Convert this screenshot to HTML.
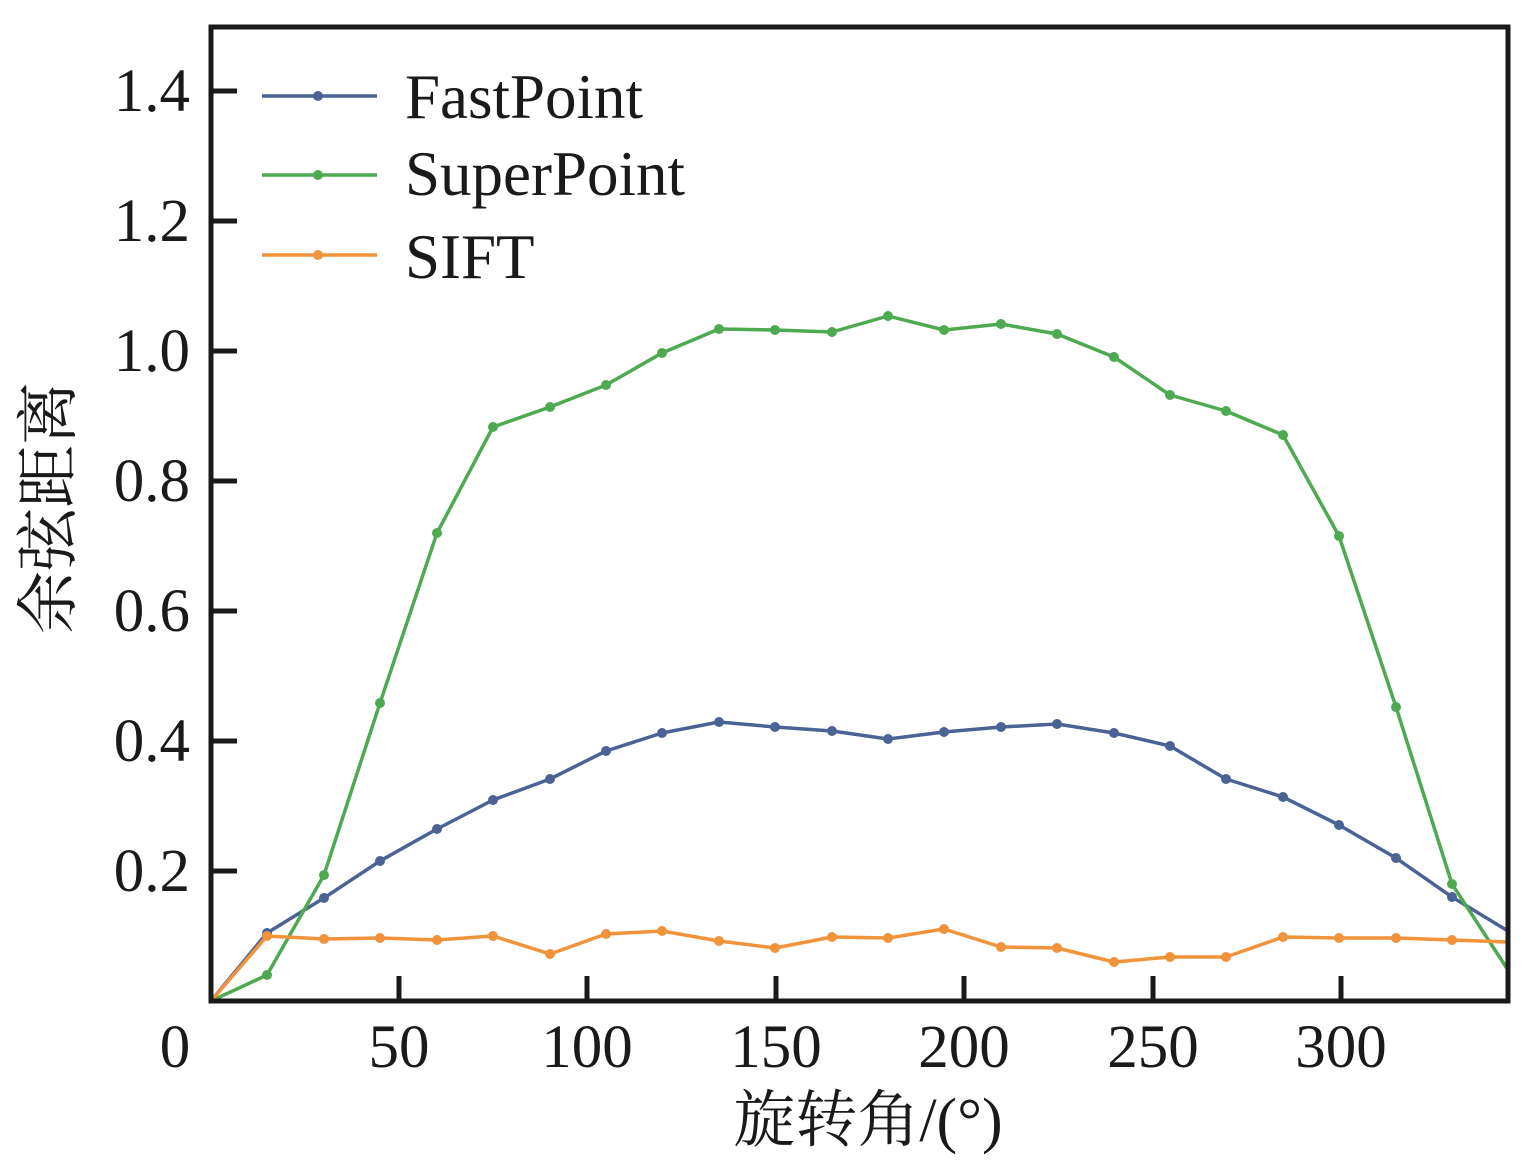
<!DOCTYPE html>
<html><head><meta charset="utf-8"><style>
html,body{margin:0;padding:0;background:#fff;}
svg{display:block;}
text{font-family:"Liberation Serif","Noto Serif CJK SC",serif;fill:#1a1a1a;}
</style></head><body>
<svg width="1533" height="1170" viewBox="0 0 1533 1170" xmlns="http://www.w3.org/2000/svg">
<defs><clipPath id="c"><rect x="211" y="27" width="1297" height="974"/></clipPath></defs>
<g clip-path="url(#c)" fill="none" stroke-width="3.5" stroke-linejoin="round">
<polyline stroke="#4a6394" points="211,1001 267,933 324,898 380,861 437,829 493,800 550,779 606,751 662,733 719,722 775,727 832,731 888,739 944,732 1001,727 1057,724 1114,733 1170,746 1226,779 1283,797 1339,825 1396,858 1452,897 1508,931"/>
<polyline stroke="#4daa50" points="211,1001 267,975 324,875 380,703 437,533 493,427 550,407 606,385 662,353 719,329 775,330 832,332 888,316 944,330 1001,324 1057,334 1114,357 1170,395 1226,411 1283,435 1339,536 1396,707 1452,884 1508,970"/>
<polyline stroke="#f0933a" points="211,1001 267,936 324,939 380,938 437,940 493,936 550,954 606,934 662,931 719,941 775,948 832,937 888,938 944,929 1001,947 1057,948 1114,962 1170,957 1226,957 1283,937 1339,938 1396,938 1452,940 1508,942"/>
</g>
<g clip-path="url(#c)">
<g fill="#4a6394"><circle cx="267" cy="933" r="5"/><circle cx="324" cy="898" r="5"/><circle cx="380" cy="861" r="5"/><circle cx="437" cy="829" r="5"/><circle cx="493" cy="800" r="5"/><circle cx="550" cy="779" r="5"/><circle cx="606" cy="751" r="5"/><circle cx="662" cy="733" r="5"/><circle cx="719" cy="722" r="5"/><circle cx="775" cy="727" r="5"/><circle cx="832" cy="731" r="5"/><circle cx="888" cy="739" r="5"/><circle cx="944" cy="732" r="5"/><circle cx="1001" cy="727" r="5"/><circle cx="1057" cy="724" r="5"/><circle cx="1114" cy="733" r="5"/><circle cx="1170" cy="746" r="5"/><circle cx="1226" cy="779" r="5"/><circle cx="1283" cy="797" r="5"/><circle cx="1339" cy="825" r="5"/><circle cx="1396" cy="858" r="5"/><circle cx="1452" cy="897" r="5"/></g>
<g fill="#4daa50"><circle cx="267" cy="975" r="5"/><circle cx="324" cy="875" r="5"/><circle cx="380" cy="703" r="5"/><circle cx="437" cy="533" r="5"/><circle cx="493" cy="427" r="5"/><circle cx="550" cy="407" r="5"/><circle cx="606" cy="385" r="5"/><circle cx="662" cy="353" r="5"/><circle cx="719" cy="329" r="5"/><circle cx="775" cy="330" r="5"/><circle cx="832" cy="332" r="5"/><circle cx="888" cy="316" r="5"/><circle cx="944" cy="330" r="5"/><circle cx="1001" cy="324" r="5"/><circle cx="1057" cy="334" r="5"/><circle cx="1114" cy="357" r="5"/><circle cx="1170" cy="395" r="5"/><circle cx="1226" cy="411" r="5"/><circle cx="1283" cy="435" r="5"/><circle cx="1339" cy="536" r="5"/><circle cx="1396" cy="707" r="5"/><circle cx="1452" cy="884" r="5"/></g>
<g fill="#f0933a"><circle cx="267" cy="936" r="5"/><circle cx="324" cy="939" r="5"/><circle cx="380" cy="938" r="5"/><circle cx="437" cy="940" r="5"/><circle cx="493" cy="936" r="5"/><circle cx="550" cy="954" r="5"/><circle cx="606" cy="934" r="5"/><circle cx="662" cy="931" r="5"/><circle cx="719" cy="941" r="5"/><circle cx="775" cy="948" r="5"/><circle cx="832" cy="937" r="5"/><circle cx="888" cy="938" r="5"/><circle cx="944" cy="929" r="5"/><circle cx="1001" cy="947" r="5"/><circle cx="1057" cy="948" r="5"/><circle cx="1114" cy="962" r="5"/><circle cx="1170" cy="957" r="5"/><circle cx="1226" cy="957" r="5"/><circle cx="1283" cy="937" r="5"/><circle cx="1339" cy="938" r="5"/><circle cx="1396" cy="938" r="5"/><circle cx="1452" cy="940" r="5"/></g>
</g>
<rect x="211" y="27" width="1297" height="974" fill="none" stroke="#1a1a1a" stroke-width="5"/>
<g stroke="#1a1a1a" stroke-width="5">
<line x1="211" y1="91" x2="237" y2="91"/><line x1="211" y1="221" x2="237" y2="221"/><line x1="211" y1="351" x2="237" y2="351"/><line x1="211" y1="481" x2="237" y2="481"/><line x1="211" y1="611" x2="237" y2="611"/><line x1="211" y1="741" x2="237" y2="741"/><line x1="211" y1="871" x2="237" y2="871"/>
<line x1="399" y1="1001" x2="399" y2="976"/><line x1="587" y1="1001" x2="587" y2="976"/><line x1="776" y1="1001" x2="776" y2="976"/><line x1="964" y1="1001" x2="964" y2="976"/><line x1="1153" y1="1001" x2="1153" y2="976"/><line x1="1341" y1="1001" x2="1341" y2="976"/>
</g>
<g font-size="61" text-anchor="end">
<text x="190" y="111">1.4</text><text x="190" y="241">1.2</text><text x="190" y="371">1.0</text><text x="190" y="501">0.8</text><text x="190" y="631">0.6</text><text x="190" y="761">0.4</text><text x="190" y="891">0.2</text>
</g>
<g font-size="61" text-anchor="middle">
<text x="175" y="1067">0</text><text x="399" y="1067">50</text><text x="587" y="1067">100</text><text x="776" y="1067">150</text><text x="964" y="1067">200</text><text x="1153" y="1067">250</text><text x="1341" y="1067">300</text>
</g>
<text x="868" y="1141" font-size="62" text-anchor="middle">旋转角/(°)</text>
<text transform="translate(70,508) rotate(-90)" font-size="63" text-anchor="middle">余弦距离</text>
<g stroke-width="3.5">
<line x1="262" y1="96" x2="377" y2="96" stroke="#4a6394"/><circle cx="318" cy="96" r="5" fill="#4a6394"/>
<line x1="262" y1="175" x2="377" y2="175" stroke="#4daa50"/><circle cx="318" cy="175" r="5" fill="#4daa50"/>
<line x1="262" y1="255" x2="377" y2="255" stroke="#f0933a"/><circle cx="318" cy="255" r="5" fill="#f0933a"/>
</g>
<g font-size="63">
<text x="405" y="118">FastPoint</text><text x="405" y="195">SuperPoint</text><text x="405" y="278">SIFT</text>
</g>
</svg>
</body></html>
